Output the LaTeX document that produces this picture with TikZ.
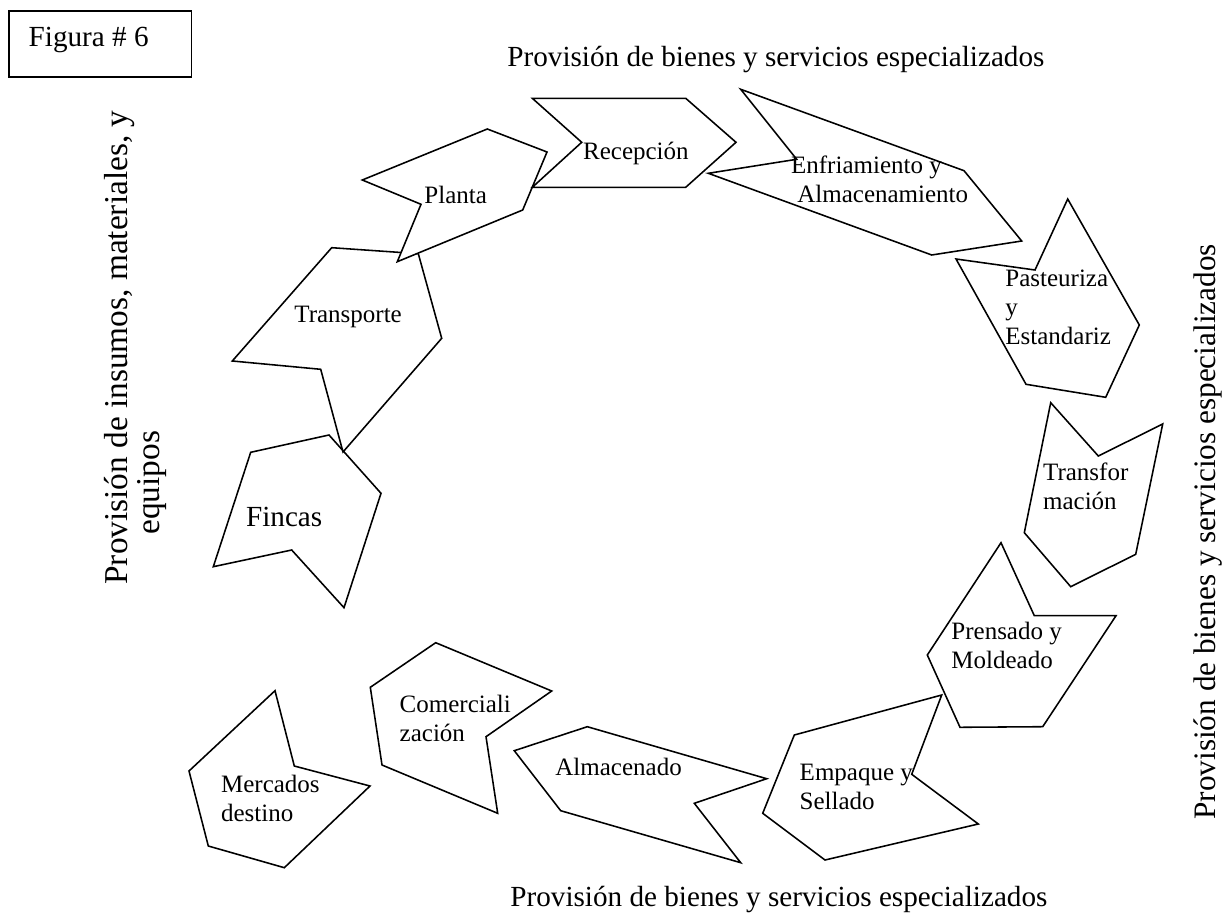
\documentclass[tikz,border=0pt]{standalone}
\usepackage{fontspec}
\setmainfont{Liberation Serif}
\begin{document}
\begin{tikzpicture}[x=0.48pt,y=-0.48pt,
  chev/.style={draw=black, line width=0.75pt, fill=white, line join=miter},
  lbl/.style={font=\fontsize{12}{13.8}\selectfont, inner sep=0pt, align=left, anchor=base west},
  big/.style={font=\fontsize{14}{16.1}\selectfont, inner sep=0pt, align=left, anchor=base west}]
\useasboundingbox (0,0) rectangle (1228,916);

% Figura box
\node[draw=black, line width=0.75pt, anchor=north west, minimum width=87.55pt, minimum height=31.68pt, inner sep=0pt] (figbox) at (8.3,10) {};
\node[big] (figtxt) at (28.3,46.7) {Figura \# 6};

% side texts
\node[big] (toptxt) at (507,67) {Provisión de bienes y servicios especializados};
\node[big] (bottxt) at (510,906) {Provisión de bienes y servicios especializados};
\node[big, font=\fontsize{15}{17}\selectfont, rotate=90] (righttxt) at (1215,820) {Provisión de bienes y servicios especializados};
\node[big, font=\fontsize{16}{14}\selectfont, rotate=90] (lefttxt) at (159,585) {Provisión de insumos, materiales, y\\\hspace*{1.5em}equipos};

% chain
\draw[chev] (250.7,452.3) -- (329,435) -- (381,493.3) -- (344,607.7) -- (291.7,550) -- (213.3,566.7) -- cycle;
\node[big] (fincas) at (245.7,526.7) {Fincas};

\draw[chev] (331.7,247.7) -- (418.3,253.7) -- (441.7,338.3) -- (343,452) -- (320.7,369.3) -- (232.3,361) -- cycle;
\node[lbl] (transporte) at (294,322.3) {Transporte};

\draw[chev] (362.3,180) -- (487.3,129) -- (547,152) -- (522.7,210) -- (397.3,261.7) -- (421,204.3) -- cycle;
\node[lbl] (planta) at (424,204) {Planta};

\draw[chev] (532.3,98.3) -- (685.7,98.3) -- (736,142.3) -- (685.7,187.3) -- (532.3,187.3) -- (581.7,142.3) -- cycle;
\node[lbl] (recepcion) at (582.7,160) {Recepción};

\draw[chev] (740.7,89.3) -- (964,170.7) -- (1021.7,241) -- (931.7,255) -- (708.3,173.3) -- (796.7,159.3) -- cycle;
\node[lbl] (enfriamiento) at (790.7,202.7) {Enfriamiento y\\\hspace*{0.25em}Almacenamiento};

\draw[chev] (956,259) -- (1035,270) -- (1067.7,199) -- (1139.3,325) -- (1105.7,397.3) -- (1026,384.3) -- cycle;
\node[lbl] (pasteuriza) at (1005,344) {Pasteuriza\\y\\Estandariz};

\draw[chev] (1050.7,402.7) -- (1098.3,456) -- (1162.7,424) -- (1135.7,554.3) -- (1070.7,586.7) -- (1024.3,532.7) -- cycle;
\node[lbl] (transformacion) at (1042.7,509.3) {Transfor\\mación};

\draw[chev] (1001,542.7) -- (1034.3,615.7) -- (1116,615.7) -- (1042.7,726.7) -- (960,727.3) -- (927.3,655) -- cycle;
\node[lbl] (prensado) at (951,668.3) {Prensado y\\Moldeado};

\draw[chev] (794.3,735) -- (941.7,695) -- (911.7,774.3) -- (978.3,824) -- (825,860) -- (762.7,813.3) -- cycle;
\node[lbl] (empaque) at (799.3,809.3) {Empaque y\\Sellado};

\draw[chev] (514.3,750.7) -- (587.3,726.7) -- (766.7,778.7) -- (694.3,803.3) -- (740.7,862.7) -- (560.7,810.7) -- cycle;
\node[lbl] (almacenado) at (555,775) {Almacenado};

\draw[chev] (435.7,642.7) -- (551.7,691) -- (486,736.7) -- (497.7,813.3) -- (382,765) -- (370.3,687.3) -- cycle;
\node[lbl] (comercializacion) at (399.3,741.7) {Comerciali\\zación};

\draw[chev] (275,690.7) -- (294.3,766) -- (370,786) -- (284.3,867.7) -- (208.3,846) -- (189,771) -- cycle;
\node[lbl] (mercados) at (220.7,821) {Mercados\\destino};
\end{tikzpicture}
\end{document}
